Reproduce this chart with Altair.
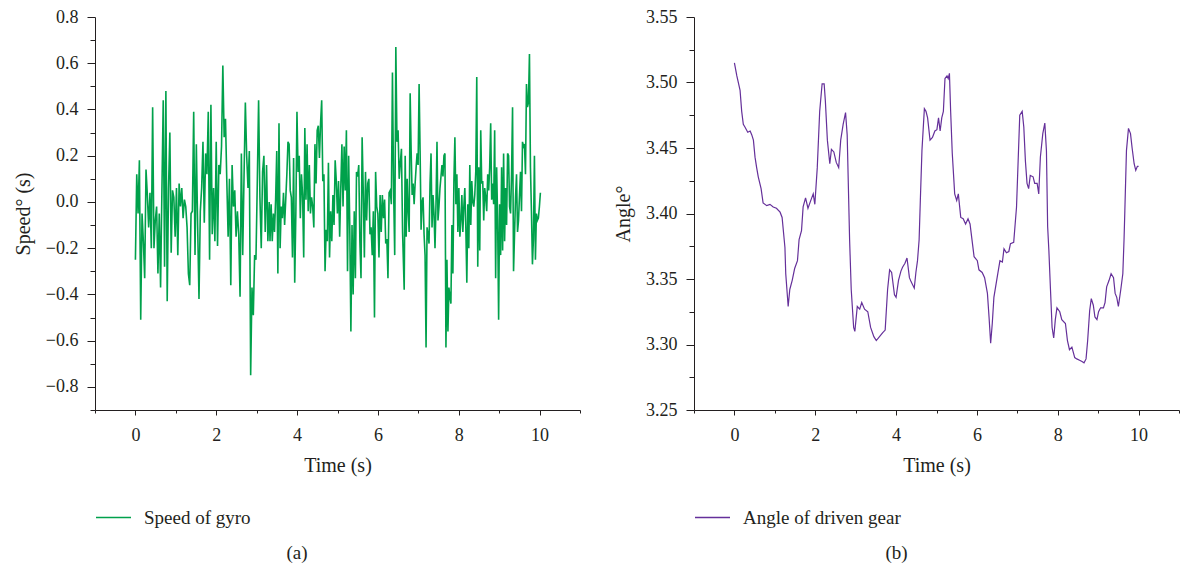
import altair as alt
import pandas as pd
import numpy as np

FONT = "Liberation Serif"
GREEN = "#00A14B"
PURPLE = "#65309A"
INK = "#231F20"

# ---------------- (a) speed of gyro ----------------
gyro_seg1 = [
    -0.25, 0.12, -0.05, 0.18, -0.51, -0.05, -0.17, -0.33, 0.14, 0.03,
    -0.11, 0.04, -0.20, 0.41, -0.20, -0.08, -0.02, -0.31, -0.05, -0.37,
    0.05, 0.44, -0.28, 0.48, -0.43, 0.06, 0.30, -0.22, 0.05, 0.02,
    -0.15, 0.06, -0.23, 0.08, -0.02, 0.06, -0.07, 0.01, -0.02, -0.11,
    -0.31, -0.36, -0.05, -0.04, 0.39, -0.23, 0.25, -0.11, -0.42, -0.04,
    0.06, 0.26, -0.09, 0.21, 0.12, 0.39, -0.25, 0.42, -0.14, 0.06,
    -0.17, 0.26, -0.19, 0.16, 0.12, 0.24, 0.59, 0.28, 0.36, 0.09,
    -0.15, 0.10, -0.36, 0.16, -0.02, 0.05, -0.15, -0.04, -0.14, -0.41,
    0.21, -0.23, 0.11, 0.43, 0.20, 0.06, 0.22, -0.75, -0.37, -0.49,
    -0.23, -0.25, 0.08, 0.44, 0.02, -0.20, 0.13, 0.20, -0.13, 0.16,
    -0.17, 0.00,
]
gyro_seg2 = [
    -0.17, -0.01, -0.17, -0.05, -0.13, 0.01, 0.22, -0.31, 0.34, -0.20,
    -0.02, -0.07, 0.04, -0.10, 0.01, 0.12, 0.26, 0.25, 0.05, 0.02,
    -0.24, 0.19, -0.35, -0.05, 0.39, 0.13, 0.20, -0.07, 0.12, 0.03,
    -0.24, 0.32, 0.01, 0.25, -0.04, 0.16, -0.05, 0.02, -0.02, -0.11,
    0.25, 0.08, 0.31, 0.33, 0.19, 0.34, 0.44, 0.09, 0.12, -0.30,
    -0.12, -0.17, 0.17, -0.24, -0.04, -0.17, 0.03, -0.10, 0.18, 0.09,
    -0.05, 0.09, -0.15, 0.06, 0.25, -0.02, 0.24, 0.05, 0.31, -0.30,
    0.20, -0.11, -0.56, -0.10, -0.40, -0.04, -0.33, 0.13, 0.11, 0.16,
    -0.17, -0.33, 0.28, 0.05, -0.24, 0.13, -0.08, 0.08, 0.10, -0.14,
    -0.11, -0.23, -0.04, -0.50, 0.13, -0.02, -0.05, -0.24, 0.03, -0.13,
    0.03, -0.07, 0.01, -0.18, -0.16, -0.33, 0.04, 0.05, -0.01, 0.56,
    0.06, -0.23, 0.67, 0.26, 0.31, 0.10, 0.17, 0.23, -0.13,
]
gyro_seg3 = [
    -0.38, 0.20, -0.15, 0.10, -0.04, -0.13, 0.47, 0.22, 0.03, 0.08,
    -0.01, 0.08, 0.15, 0.21, 0.16, 0.51, 0.22, -0.12, 0.00, 0.02,
    -0.14, -0.23, -0.63, -0.11, -0.14, -0.18, 0.08, 0.21, -0.11, 0.03,
    -0.05, -0.20, -0.01, 0.26, -0.08, -0.02, 0.06, 0.11, 0.16, 0.11,
    0.20, 0.21, -0.63, -0.25, -0.56, -0.37, -0.41, -0.44, -0.10, -0.31,
    0.09, 0.28, -0.01, 0.12, -0.13, 0.06, -0.15, -0.08, 0.03, -0.13,
    -0.02, 0.06, -0.11, -0.35, -0.01, -0.20, 0.16, -0.10, 0.09, 0.00,
    -0.02, 0.03, 0.13, 0.54, -0.28, 0.15, -0.21, 0.31, 0.08, 0.09,
    -0.08, 0.06, 0.02, -0.04, 0.12, 0.05, 0.15, 0.34, 0.01, 0.08,
    -0.01, 0.31, -0.33, 0.15, -0.08, -0.51, -0.01, -0.23, 0.15, -0.21,
    0.21, -0.17, 0.06, -0.10, 0.21, 0.20, -0.02, -0.05, 0.12, 0.41,
    -0.30, -0.14, 0.02, 0.12, -0.13, -0.08, 0.03, 0.13, -0.04, 0.26,
    0.24, 0.25, 0.12, 0.51, 0.41, 0.43, 0.64, 0.15, -0.04, -0.27,
    -0.16, 0.20, -0.25, -0.05, -0.08, -0.07, -0.02, 0.04,
]
# time span (s) covered by each run of samples
gyro_seg_spans = [(0.0, 3.31), (3.33, 6.61), (6.65, 10.02)]

# ---------------- (b) angle of driven gear ----------------
angle_time = [
    0.00, 0.06, 0.14, 0.18, 0.22, 0.26, 0.33, 0.39, 0.43, 0.47,
    0.51, 0.55, 0.59, 0.66, 0.71, 0.80, 0.88, 0.96, 1.04, 1.13,
    1.18, 1.25, 1.27, 1.33, 1.37, 1.43, 1.49, 1.56, 1.60, 1.66,
    1.70, 1.76, 1.82, 1.89, 1.95, 1.99, 2.05, 2.11, 2.17, 2.22,
    2.25, 2.30, 2.36, 2.40, 2.46, 2.52, 2.58, 2.63, 2.69, 2.75,
    2.79, 2.85, 2.89, 2.95, 2.98, 3.04, 3.10, 3.15, 3.22, 3.30,
    3.37, 3.45, 3.51, 3.59, 3.67, 3.73, 3.79, 3.84, 3.89, 3.96,
    4.00, 4.06, 4.12, 4.16, 4.22, 4.27, 4.33, 4.37, 4.45, 4.49,
    4.53, 4.57, 4.60, 4.64, 4.70, 4.74, 4.78, 4.84, 4.90, 4.96,
    5.01, 5.05, 5.09, 5.13, 5.17, 5.21, 5.26, 5.29, 5.32, 5.35,
    5.39, 5.45, 5.50, 5.54, 5.60, 5.66, 5.72, 5.78, 5.83, 5.87,
    5.93, 6.01, 6.05, 6.13, 6.19, 6.26, 6.30, 6.34, 6.38, 6.42,
    6.50, 6.57, 6.63, 6.67, 6.73, 6.79, 6.83, 6.91, 6.98, 7.02,
    7.06, 7.12, 7.16, 7.20, 7.24, 7.28, 7.32, 7.39, 7.43, 7.49,
    7.53, 7.57, 7.63, 7.68, 7.72, 7.75, 7.78, 7.82, 7.86, 7.90,
    7.94, 7.98, 8.05, 8.10, 8.19, 8.24, 8.29, 8.35, 8.42, 8.47,
    8.54, 8.60, 8.65, 8.70, 8.74, 8.79, 8.83, 8.88, 8.92, 8.97,
    9.01, 9.06, 9.13, 9.17, 9.21, 9.27, 9.32, 9.38, 9.42, 9.46,
    9.50, 9.56, 9.61, 9.64, 9.66, 9.70, 9.75, 9.80, 9.84, 9.89,
    9.93, 9.97, 10.00,
]
angle_value = [
    3.515, 3.505, 3.494, 3.478, 3.468, 3.466, 3.462, 3.463, 3.460, 3.456,
    3.443, 3.435, 3.428, 3.419, 3.408, 3.406, 3.407, 3.405, 3.404, 3.401,
    3.397, 3.374, 3.354, 3.329, 3.342, 3.349, 3.358, 3.364, 3.380, 3.387,
    3.405, 3.412, 3.404, 3.410, 3.415, 3.407, 3.435, 3.478, 3.499, 3.499,
    3.486, 3.456, 3.438, 3.449, 3.447, 3.439, 3.435, 3.456, 3.468, 3.477,
    3.460, 3.380, 3.342, 3.313, 3.310, 3.329, 3.327, 3.332, 3.327, 3.325,
    3.313, 3.306, 3.303, 3.306, 3.309, 3.311, 3.342, 3.357, 3.355, 3.338,
    3.336, 3.349, 3.356, 3.359, 3.362, 3.366, 3.351, 3.348, 3.343, 3.355,
    3.364, 3.380, 3.410, 3.448, 3.480, 3.478, 3.473, 3.456, 3.458, 3.463,
    3.464, 3.473, 3.463, 3.473, 3.478, 3.503, 3.505, 3.503, 3.507, 3.478,
    3.446, 3.415, 3.410, 3.415, 3.397, 3.396, 3.392, 3.396, 3.392, 3.382,
    3.367, 3.364, 3.357, 3.355, 3.351, 3.339, 3.321, 3.301, 3.316, 3.336,
    3.351, 3.364, 3.363, 3.373, 3.370, 3.371, 3.377, 3.378, 3.405, 3.440,
    3.475, 3.478, 3.466, 3.440, 3.423, 3.419, 3.429, 3.428, 3.423, 3.423,
    3.415, 3.443, 3.461, 3.469, 3.448, 3.390, 3.372, 3.342, 3.313, 3.305,
    3.319, 3.328, 3.325, 3.319, 3.316, 3.303, 3.296, 3.298, 3.290, 3.289,
    3.288, 3.287, 3.286, 3.289, 3.303, 3.326, 3.335, 3.330, 3.321, 3.319,
    3.325, 3.328, 3.328, 3.332, 3.344, 3.349, 3.354, 3.351, 3.339, 3.336,
    3.329, 3.342, 3.354, 3.380, 3.402, 3.448, 3.465, 3.461, 3.450, 3.438,
    3.433, 3.436, 3.436,
]

x_ticks = [-1, 0, 1, 2, 3, 4, 5, 6, 7, 8, 9, 10, 11]
speed_ticks = [-0.9, -0.8, -0.7, -0.6, -0.5, -0.4, -0.3, -0.2, -0.1, 0.0,
               0.1, 0.2, 0.3, 0.4, 0.5, 0.6, 0.7, 0.8]
angle_ticks = [3.25, 3.275, 3.30, 3.325, 3.35, 3.375, 3.40, 3.425, 3.45,
               3.475, 3.50, 3.525, 3.55]

# ---------------- tables ----------------
g_t, g_v = [], []
for seg, (t0, t1) in zip([gyro_seg1, gyro_seg2, gyro_seg3], gyro_seg_spans):
    g_t.extend(np.linspace(t0, t1, len(seg)).tolist())
    g_v.extend(seg)
gyro_df = pd.DataFrame({"t": g_t, "v": g_v, "s": "Speed of gyro"})
angle_df = pd.DataFrame({"t": angle_time, "v": angle_value, "s": "Angle of driven gear"})

W, H = 485, 393


def x_axis():
    return alt.Axis(
        values=x_ticks,
        labelExpr="round(datum.value) % 2 == 0 ? datum.label : ''",
        tickSize={"condition": {"test": "round(datum.value) % 2 == 0", "value": 5}, "value": 3},
        labelPadding=11,
        titlePadding=11,
        title="Time (s)",
    )


def legend(y):
    return alt.Legend(
        orient="none", legendX=0, legendY=y, title=None,
        symbolType="stroke", symbolSize=1225, symbolStrokeWidth=1.5,
        labelFont=FONT, labelFontSize=19, labelColor=INK, labelOffset=12,
        padding=0,
    )


def panel_title(text):
    return alt.TitleParams(text, orient="bottom", anchor="middle", frame="bounds",
                           font=FONT, fontSize=19, fontWeight="normal", color=INK, offset=16)


left = alt.Chart(gyro_df).mark_line(strokeWidth=1.6).encode(
    x=alt.X("t:Q", scale=alt.Scale(domain=[-1, 11], nice=False, zero=False), axis=x_axis()),
    y=alt.Y("v:Q", scale=alt.Scale(domain=[-0.9, 0.8], nice=False, zero=False),
            axis=alt.Axis(
                values=speed_ticks,
                labelExpr="abs(round(datum.value*10)) % 2 == 0 ? format(datum.value, '.1f') : ''",
                tickSize={"condition": {"test": "abs(round(datum.value*10)) % 2 == 0", "value": 8}, "value": 5},
                labelPadding=9, titlePadding=12, title="Speed° (s)")),
    color=alt.Color("s:N", scale=alt.Scale(range=[GREEN]), legend=legend(482)),
).properties(width=W, height=H, title=panel_title("(a)"))

right = alt.Chart(angle_df).mark_line(strokeWidth=1.2).encode(
    x=alt.X("t:Q", scale=alt.Scale(domain=[-1, 11], nice=False, zero=False), axis=x_axis()),
    y=alt.Y("v:Q", scale=alt.Scale(domain=[3.25, 3.55], nice=False, zero=False),
            axis=alt.Axis(
                values=angle_ticks,
                labelExpr="round(datum.value*1000) % 50 == 0 ? format(datum.value, '.2f') : ''",
                tickSize={"condition": {"test": "round(datum.value*1000) % 50 == 0", "value": 8}, "value": 5},
                labelPadding=9, titlePadding=12, title="Angle°")),
    color=alt.Color("s:N", scale=alt.Scale(range=[PURPLE]), legend=legend(482)),
).properties(width=W, height=H, title=panel_title("(b)"))

chart = alt.hconcat(left, right, spacing=32).resolve_scale(color="independent").properties(
    padding={"left": 13, "top": 8, "right": 0, "bottom": 0},
    background="white",
).configure_view(stroke=None).configure_axis(
    grid=False,
    domainColor=INK, tickColor=INK, labelColor=INK, titleColor=INK,
    domainWidth=1, tickWidth=1,
    labelFont=FONT, labelFontSize=18, titleFont=FONT, titleFontSize=20,
    titleFontWeight="normal",
)

chart.save("out.html", embed_options={"renderer": "svg", "actions": False})
